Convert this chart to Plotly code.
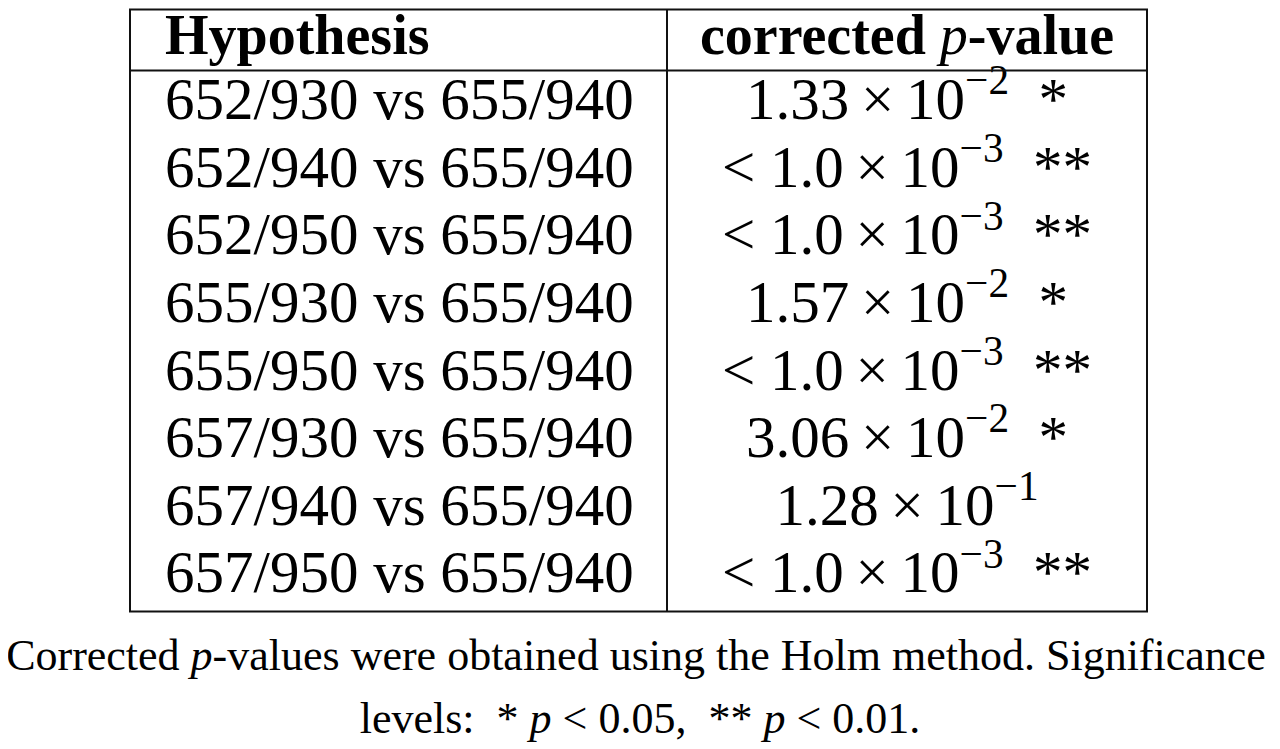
import plotly.graph_objects as go

# table content
headers = ["Hypothesis", "corrected <span style=\"font-weight:normal\"><i>p</i></span>-value"]
hypotheses = [
    "652/930 vs 655/940",
    "652/940 vs 655/940",
    "652/950 vs 655/940",
    "655/930 vs 655/940",
    "655/950 vs 655/940",
    "657/930 vs 655/940",
    "657/940 vs 655/940",
    "657/950 vs 655/940",
]
mantissa = ["1.33", "< 1.0", "< 1.0", "1.57", "< 1.0", "3.06", "1.28", "< 1.0"]
exponent = [-2, -3, -3, -2, -3, -2, -1, -3]
stars = ["*", "**", "**", "*", "**", "*", "", "**"]
caption = [
    "Corrected <i>p</i>-values were obtained using the Holm method. Significance",
    "levels:  * <i>p</i> < 0.05,  ** <i>p</i> < 0.01.",
]

FONT = "Liberation Serif"
col1_left = 165             # first column is left aligned
col2_mid = 907              # second column is centred
left, sep, right = 130, 667, 1147
top = 0.095                 # page margin hides anything above this

pvals = []
for m, e, s in zip(mantissa, exponent, stars):
    txt = f"{m}\u2009×\u200910<sup>\u2212{abs(e)}</sup>"
    if s:
        txt += "  " + s
    pvals.append(txt)

rows = [i + 1.5 for i in range(len(hypotheses))]
head_y = (top + 1) / 2

fig = go.Figure()

# header
fig.add_trace(go.Scatter(
    x=[col1_left], y=[head_y], text=["<b>%s</b>" % headers[0]],
    mode="text", textposition="middle right",
    textfont=dict(family=FONT, size=56, color="black"), hoverinfo="skip"))
fig.add_trace(go.Scatter(
    x=[col2_mid], y=[head_y], text=["<b>%s</b>" % headers[1]],
    mode="text", textposition="middle center",
    textfont=dict(family=FONT, size=56, color="black"), hoverinfo="skip"))

# body
fig.add_trace(go.Scatter(
    x=[col1_left] * len(rows), y=rows, text=hypotheses,
    mode="text", textposition="middle right",
    textfont=dict(family=FONT, size=59, color="black"), hoverinfo="skip"))
fig.add_trace(go.Scatter(
    x=[col2_mid] * len(rows), y=rows, text=pvals,
    mode="text", textposition="middle center",
    textfont=dict(family=FONT, size=59, color="black"), hoverinfo="skip"))

# caption
fig.add_trace(go.Scatter(
    x=[636, 640], y=[9.70, 10.64], text=caption,
    mode="text", textposition="middle center",
    textfont=dict(family=FONT, size=44, color="black"), hoverinfo="skip"))

# table lines
line = dict(color="#111111", width=2)
fig.add_shape(type="rect", x0=left, x1=right, y0=top, y1=9, line=line)
fig.add_shape(type="line", x0=left, x1=right, y0=1, y1=1, line=line)
fig.add_shape(type="line", x0=sep, x1=sep, y0=top, y1=9, line=line)

fig.update_layout(
    width=1280, height=749,
    margin=dict(l=0, r=0, t=0, b=0),
    plot_bgcolor="white", paper_bgcolor="white",
    showlegend=False,
    xaxis=dict(range=[8, 1288], visible=False, fixedrange=True),
    yaxis=dict(range=[11.154, 0.074], visible=False, fixedrange=True),
)

fig.write_html("out.html")
